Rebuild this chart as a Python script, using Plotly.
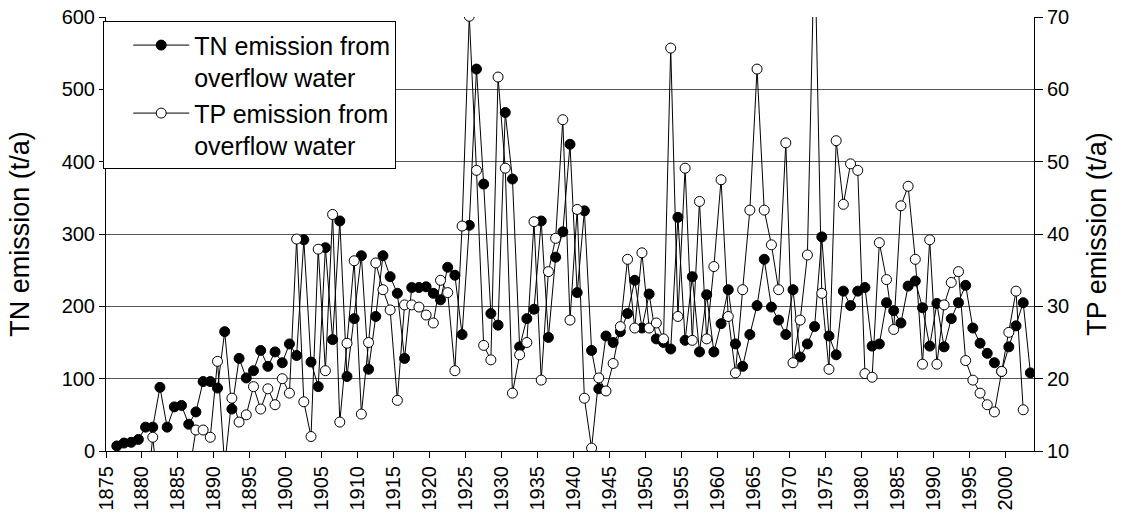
import plotly.graph_objects as go

years = list(range(1876, 2004))

tn = [7, 11, 12, 16, 33, 33, 88, 33, 61, 63,
      37, 54, 96, 96, 87, 165, 58, 128, 101, 111,
      139, 117, 137, 122, 148, 132, 292, 123, 89, 281,
      154, 318, 103, 183, 270, 113, 186, 270, 241, 218,
      128, 226, 226, 227, 218, 209, 254, 243, 161, 312,
      528, 369, 190, 174, 468, 376, 144, 183, 196, 318,
      157, 268, 303, 424, 219, 332, 139, 86, 159, 150,
      165, 190, 236, 170, 217, 155, 150, 141, 323, 153,
      241, 137, 216, 137, 176, 223, 148, 117, 161, 201,
      265, 199, 181, 161, 223, 130, 148, 172, 296, 159,
      133, 221, 201, 221, 226, 145, 148, 205, 194, 177,
      228, 235, 198, 145, 204, 144, 183, 205, 229, 170,
      149, 135, 122, 110, 144, 173, 205, 108]

tp = [4, 5, 5, 4, 2.5, 11.9, 2.5, 3, 4, 5,
      6.5, 12.9, 12.9, 11.9, 22.4, 8, 17.3, 14, 15, 18.9,
      15.8, 18.6, 16.4, 20.0, 18.0, 39.3, 16.8, 12.0, 37.9, 21.1,
      42.7, 14.0, 24.9, 36.3, 15.1, 25.0, 36.0, 32.3, 29.5, 17.0,
      30.2, 30.2, 29.9, 28.8, 27.7, 33.6, 31.9, 21.1, 41.1, 70.1,
      48.8, 24.6, 22.6, 61.7, 49.1, 18.0, 23.3, 25.0, 41.7, 19.8,
      34.8, 39.4, 55.8, 28.1, 43.4, 17.3, 10.4, 20.1, 18.3, 22.1,
      27.2, 36.5, 27.0, 37.4, 27.0, 27.7, 25.5, 65.7, 28.6, 49.1,
      25.3, 44.5, 25.5, 35.5, 47.5, 28.6, 20.8, 32.3, 43.3, 62.8,
      43.3, 38.5, 32.3, 52.6, 22.2, 28.1, 37.1, 81, 31.8, 21.3,
      52.9, 44.1, 49.7, 48.8, 20.7, 20.2, 38.8, 33.7, 26.8, 43.9,
      46.6, 36.5, 22.0, 39.2, 22.0, 30.2, 33.3, 34.8, 22.5, 19.8,
      18.0, 16.4, 15.4, 21.0, 26.4, 32.1, 15.7, None]

tick_years = list(range(1875, 2001, 5))
tick_labels = [str(y) for y in tick_years]
tick_pos = [y - 0.5 for y in tick_years]

FONT = "Liberation Sans, Arial, sans-serif"

fig = go.Figure()
fig.add_trace(go.Scatter(
    x=years, y=tn, mode="lines+markers",
    name="TN emission from<br>overflow water",
    line=dict(color="black", width=1),
    marker=dict(symbol="circle", size=10, color="black",
                line=dict(color="black", width=1)),
    yaxis="y"))
fig.add_trace(go.Scatter(
    x=years, y=tp, mode="lines+markers",
    name="TP emission from<br>overflow water",
    line=dict(color="black", width=1),
    marker=dict(symbol="circle", size=10, color="white",
                line=dict(color="black", width=1)),
    yaxis="y2", connectgaps=False))

fig.update_layout(
    template="none",
    width=1123, height=528,
    margin=dict(l=106, r=89, t=17, b=77),
    paper_bgcolor="white", plot_bgcolor="white",
    font=dict(family=FONT, size=20, color="black"),
    showlegend=True,
    legend=dict(x=-0.003, y=0.99, xanchor="left", yanchor="top",
                bgcolor="white", bordercolor="black", borderwidth=1,
                font=dict(family=FONT, size=25, color="black"),
                valign="top", itemwidth=56, indentation=24, tracegroupgap=0,
                entrywidthmode="pixels", entrywidth=222),
    xaxis=dict(range=[1874.5, 2003.5], tickmode="array",
               tickvals=tick_pos, ticktext=tick_labels, tickangle=-90,
               showline=True, linecolor="black", linewidth=1,
               ticks="outside", ticklen=6, tickcolor="black",
               showgrid=False, zeroline=False, automargin=False,
               tickfont=dict(family=FONT, size=20)),
    yaxis=dict(range=[0, 600], dtick=100, tick0=0,
               title=dict(text="TN emission (t/a)", font=dict(family=FONT, size=27), standoff=24),
               showline=True, linecolor="black", linewidth=1,
               ticks="outside", ticklen=6, tickcolor="black",
               showgrid=True, gridcolor="#555555", gridwidth=1,
               zeroline=False, automargin=False, tickfont=dict(family=FONT, size=20)),
    yaxis2=dict(range=[10, 70], dtick=10, tick0=10, overlaying="y", side="right",
                title=dict(text="TP emission (t/a)", font=dict(family=FONT, size=27), standoff=18),
                showline=True, linecolor="black", linewidth=1,
                ticks="outside", ticklen=8, tickcolor="black",
                showgrid=False, zeroline=False, automargin=False,
                tickfont=dict(family=FONT, size=20)),
)

fig.write_html("out.html")
